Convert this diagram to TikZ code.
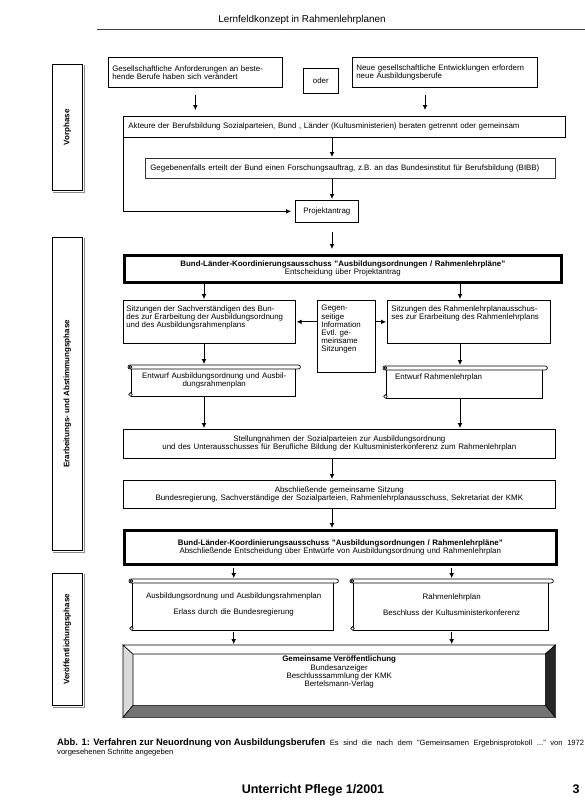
\documentclass[tikz,border=0pt]{standalone}
\usepackage{fontspec}
\usepackage{graphicx}
\setmainfont{Liberation Sans}
\usetikzlibrary{arrows.meta,calc}
\pgfdeclarelayer{bg}
\pgfsetlayers{bg,main}
\newcommand\bxf{\fontsize{7.9}{8.2}\selectfont}
\newcommand\topbox[4]{\parbox[c][#2][t]{#1}{\vspace*{#3}\raggedright #4}}
\newcommand\scrl[1]{%
  \draw[line width=0.7pt, rounded corners=2pt] (#1.north west) rectangle ([shift={(0,4)}]#1.north east);
  \draw[line width=0.7pt] ([shift={(3,4)}]#1.north west) -- ([shift={(3,-3)}]#1.south west);
  \draw[line width=0.7pt] ([shift={(3,0)}]#1.south west) -- ([shift={(-5,0)}]#1.south east) -- ([shift={(-5,4)}]#1.north east);
  \draw[line width=0.6pt] ([shift={(2.5,2)}]#1.north west) circle (1.4pt);
  \draw[line width=0.6pt] ([shift={(2.5,-2)}]#1.south west) circle (1.8pt);
}
\begin{document}
\begin{tikzpicture}[x=1pt,y=-1pt,
  box/.style={draw, line width=0.7pt, inner sep=0pt, anchor=north west, font=\bxf},
  heavy/.style={box, line width=2.6pt},
  plain/.style={inner sep=0pt, anchor=north west, font=\bxf},
  arr/.style={-{Latex[length=5pt,width=4.8pt]}, line width=0.8pt},
  phasef/.style={font=\fontsize{8}{8}\selectfont\bfseries},
  shadowln/.style={draw=black!45, line width=1pt},
]
\useasboundingbox (0,0) rectangle (585,811);
\begin{pgfonlayer}{bg}
\fill[white] (0,0) rectangle (585,811);
\end{pgfonlayer}

% header
\node[anchor=base, font=\fontsize{9.9}{11}\selectfont] (hdr) at (302,23) {Lernfeldkonzept in Rahmenlehrplanen};
\draw[black!75, line width=0.8pt] (97,29) -- (585,29);

% phase boxes
\node[box, phasef, minimum width=30pt, minimum height=126pt] (P1) at (52,64) {\rotatebox{90}{Vorphase}};
\node[box, phasef, minimum width=30pt, minimum height=313pt] (P2) at (52,237) {\rotatebox{90}{Erarbeitungs- und Abstimmungsphase}};
\node[box, phasef, minimum width=30pt, minimum height=132pt] (P3) at (52,573) {\rotatebox{90}{Veröffentlichungsphase}};
\foreach \p in {P1,P2,P3}{
  \draw[shadowln] ([xshift=1.6pt,yshift=-1pt]\p.north east) -- ([xshift=1.6pt,yshift=-1.6pt]\p.south east) -- ([xshift=1pt,yshift=-1.6pt]\p.south west);
}

% Vorphase
\node[box, text width=166pt, inner xsep=4pt, align=left, minimum height=30pt] (A) at (108,57)
  {Gesellschaftliche Anforderungen an beste-\\hende Berufe haben sich verändert};
\node[box, minimum width=35pt, minimum height=25pt] (oder) at (303,68) {oder};
\node[box, text width=177pt, inner xsep=4pt, align=left, minimum height=30pt] (B) at (352,57)
  {Neue gesellschaftliche Entwicklungen erfordern\\neue Ausbildungsberufe};
\node[box, text width=432pt, inner xsep=5pt, align=left, minimum height=21pt] (Akt) at (123,116)
  {Akteure der Berufsbildung Sozialparteien, Bund , Länder (Kultusministerien) beraten getrennt oder gemeinsam};
\node[box, draw=black!80, text width=400pt, inner xsep=5pt, align=left, minimum height=20pt] (Geg) at (145,158)
  {Gegebenenfalls erteilt der Bund einen Forschungsauftrag, z.B. an das Bundesinstitut für Berufsbildung (BIBB)};
\node[box, minimum width=63pt, minimum height=22pt] (Proj) at (295,200) {Projektantrag};

% Erarbeitungs- und Abstimmungsphase
\node[heavy, text width=437pt, align=center, minimum height=27pt] (BLK1) at (123,254)
  {{\bfseries Bund-Länder-Koordinierungsausschuss "Ausbildungsordnungen / Rahmenlehrpläne"}\\Entscheidung über Projektantrag};
\node[box, inner xsep=3pt] (SL) at (123,300)
  {\topbox{166pt}{43pt}{5pt}{Sitzungen der Sachverständigen des Bun-\\des zur Erarbeitung der Ausbildungsordnung\\und des Ausbildungsrahmenplans}};
\node[box, inner xsep=4pt] (Mid) at (317,300)
  {\topbox{50pt}{72pt}{5pt}{Gegen-\\seitige\\Information\\Evtl. ge-\\meinsame\\Sitzungen}};
\node[box, inner xsep=4pt] (SR) at (387,300)
  {\topbox{155pt}{43pt}{5pt}{Sitzungen des Rahmenlehrplanausschus-\\ses zur Erarbeitung des Rahmenlehrplans}};
\node[plain, text width=172pt, align=center, minimum height=31pt] (EL) at (128,365)
  {Entwurf Ausbildungsordnung und Ausbil-\\dungsrahmenplan};
\scrl{EL}
\node[plain, inner xsep=12pt] (ER) at (383,366)
  {\topbox{140pt}{32pt}{8pt}{Entwurf Rahmenlehrplan}};
\scrl{ER}
\node[box, text width=432pt, align=center, minimum height=29pt] (Stell) at (123,429)
  {Stellungnahmen der Sozialparteien zur Ausbildungsordnung\\und des Unterausschusses für Berufliche Bildung der Kultusministerkonferenz zum Rahmenlehrplan};
\node[box, text width=432pt, align=center, minimum height=28pt] (Absch) at (123,480)
  {Abschließende gemeinsame Sitzung\\Bundesregierung, Sachverständige der Sozialparteien, Rahmenlehrplanausschuss, Sekretariat der KMK};
\node[heavy, text width=432pt, align=center, minimum height=34pt] (BLK2) at (123,529)
  {{\bfseries Bund-Länder-Koordinierungsausschuss "Ausbildungsordnungen / Rahmenlehrpläne"}\\Abschließende Entscheidung über Entwürfe von Ausbildungsordnung und Rahmenlehrplan};

% Veroeffentlichungsphase
\node[plain, text width=209pt, align=center, minimum height=51pt] (AOL) at (129,579)
  {Ausbildungsordnung und Ausbildungsrahmenplan\\[8pt]Erlass durch die Bundesregierung};
\scrl{AOL}
\node[plain, text width=203pt, align=center, minimum height=51pt] (RLP) at (350,579)
  {Rahmenlehrplan\\[8pt]Beschluss der Kultusministerkonferenz};
\scrl{RLP}
\node[plain] (Gem) at (123,645)
  {\parbox[c][72pt][t]{432pt}{\vspace*{11pt}\centering {\bfseries Gemeinsame Veröffentlichung}\\Bundesanzeiger\\Beschlusssammlung der KMK\\Bertelsmann-Verlag}};
\coordinate (g1) at ([shift={(10,9)}]Gem.north west);
\coordinate (g2) at ([shift={(-10,9)}]Gem.north east);
\coordinate (g3) at ([shift={(-10,-12)}]Gem.south east);
\coordinate (g4) at ([shift={(10,-12)}]Gem.south west);
\begin{pgfonlayer}{bg}
\filldraw[fill=black!15, line width=0.6pt] (Gem.north west) -- (g1) -- (g4) -- (Gem.south west) -- cycle;
\filldraw[fill=white, line width=0.6pt] (Gem.north west) -- (Gem.north east) -- (g2) -- (g1) -- cycle;
\filldraw[fill=black!85, line width=0.6pt] (Gem.north east) -- (Gem.south east) -- (g3) -- (g2) -- cycle;
\filldraw[fill=black!55, line width=0.6pt] (Gem.south west) -- (Gem.south east) -- (g3) -- (g4) -- cycle;
\end{pgfonlayer}

% connectors
\coordinate (cx) at (332,0);
\coordinate (cl) at (204,0);
\coordinate (cr) at (460,0);
\draw[arr, shorten <=7pt, shorten >=6pt] (A.south) -- (A.south |- Akt.north);
\draw[arr, shorten <=7pt, shorten >=6pt] ([xshift=73pt]B.south west) -- ([xshift=73pt]B.south west |- Akt.north);
\draw[arr, shorten >=1pt] (Akt.south -| cx) -- (Geg.north -| cx);
\draw[arr, shorten >=4pt] (Akt.south west) |- (Proj.west);
\draw[arr, shorten >=1pt] (Geg.south -| cx) -- (Proj.north -| cx);
\draw[arr, shorten <=9pt, shorten >=5pt] (Proj.south -| cx) -- (BLK1.north -| cx);
\draw[arr, shorten >=1pt] (BLK1.south -| cl) -- (SL.north -| cl);
\draw[arr, shorten >=1pt] (BLK1.south -| cr) -- (SR.north -| cr);
\draw[arr, shorten >=1pt] (Mid.west |- SL.east) -- (SL.east);
\draw[arr, shorten >=1pt] (Mid.east |- SR.west) -- (SR.west);
\draw[arr, shorten >=1pt] (SL.south -| cl) -- (EL.north -| cl);
\draw[arr, shorten >=1pt] (SR.south -| cr) -- (ER.north -| cr);
\draw[arr, shorten >=1pt] (EL.south -| cl) -- (Stell.north -| cl);
\draw[arr, shorten >=1pt] (ER.south -| cr) -- (Stell.north -| cr);
\draw[arr, shorten >=1pt] (Stell.south -| cx) -- (Absch.north -| cx);
\draw[arr, shorten >=1pt] (Absch.south -| cx) -- (BLK2.north -| cx);
\draw[arr, shorten <=2pt, shorten >=1pt] (BLK2.south -| AOL.north) -- (AOL.north);
\draw[arr, shorten <=2pt, shorten >=1pt] (BLK2.south -| RLP.north) -- (RLP.north);
\draw[arr, shorten <=2pt, shorten >=1pt] (AOL.south) -- (AOL.south |- Gem.north);
\draw[arr, shorten <=2pt, shorten >=1pt] (RLP.south) -- (RLP.south |- Gem.north);

% caption and footer
\node[anchor=north west, inner sep=0pt, text width=527pt, align=justify, font=\fontsize{7.6}{9.5}\selectfont] (cap) at (57,738)
  {\mbox{\fontsize{9.4}{9.5}\selectfont\bfseries Abb. 1: Verfahren zur Neuordnung von Ausbildungsberufen} Es sind die nach dem "Gemeinsamen Ergebnisprotokoll ..." von 1972\linebreak vorgesehenen Schritte angegeben};
\node[anchor=base, font=\fontsize{12.5}{14}\selectfont\bfseries] (foot) at (313,793) {Unterricht Pflege 1/2001};
\node[anchor=base east, font=\fontsize{12.5}{14}\selectfont\bfseries] (pg) at (583,793) {3};
\end{tikzpicture}
\end{document}
